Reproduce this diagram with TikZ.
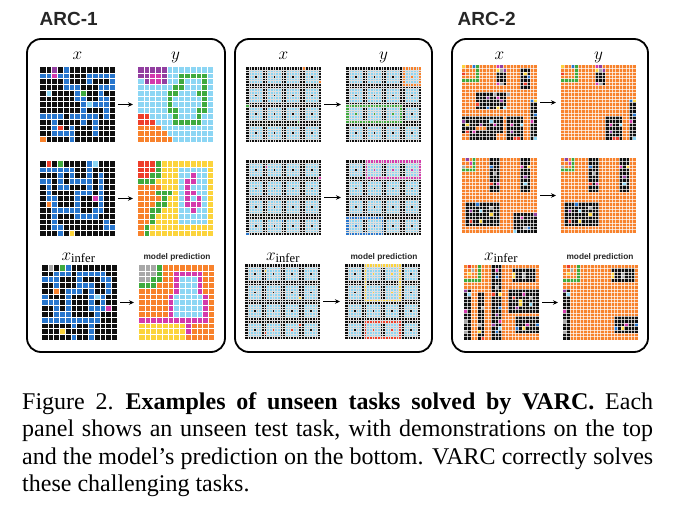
\documentclass[tikz,border=0pt]{standalone}
\usepackage{fontspec}
\setmainfont{Liberation Serif}
\newfontfamily\headfont{Liberation Sans}
\usetikzlibrary{arrows.meta, positioning, calc}
\definecolor{arcblack}{RGB}{15,15,15}
\definecolor{arcblue}{RGB}{40,118,205}
\definecolor{arcred}{RGB}{238,62,42}
\definecolor{arcgreen}{RGB}{62,170,62}
\definecolor{arcyellow}{RGB}{252,212,60}
\definecolor{arcgray}{RGB}{168,168,168}
\definecolor{arcmagenta}{RGB}{212,58,172}
\definecolor{arcorange}{RGB}{248,130,44}
\definecolor{arcsky}{RGB}{140,214,244}
\definecolor{arcpurple}{RGB}{146,62,160}
\definecolor{labelgray}{RGB}{38,38,38}

\tikzset{
  gridbox/.style={minimum size=75pt, inner sep=0pt, outer sep=0pt},
  gridline/.style={white, line width=0.35pt},
  thinline/.style={white, line width=0.3pt, opacity=0.7},
  fineline/.style={white!75!gray, line width=0.22pt},
  panel/.style={line width=1.8pt, rounded corners=14pt},
  flow/.style={-{Stealth[length=5pt,width=4.5pt]}, line width=1pt, shorten <=3pt, shorten >=5pt},
  arclabel/.style={font=\headfont\bfseries\fontsize{19}{22}\selectfont, text=labelgray, inner sep=0pt, anchor=base west},
  mathlabel/.style={font=\fontsize{18}{21}\selectfont, inner sep=0pt, anchor=base},
  predlabel/.style={font=\headfont\bfseries\fontsize{8.3}{10}\selectfont, text=labelgray, inner sep=0pt, anchor=base}
}

% cells of a grid: grid name, colour, list of col/row
\newcommand{\cellsin}[3]{%
  \foreach \cx/\ry in {#3}
    \fill[#2] ($(#1.north west)+(\cx*\cellw,\ry*\cellw)$) rectangle ++(\cellw,\cellw);}
% block of cells: grid name, colour, first col/row, last col/row
\newcommand{\blockin}[6]{%
  \fill[#2] ($(#1.north west)+(#3*\cellw,#4*\cellw)$) rectangle ($(#1.north west)+(#5*\cellw+\cellw,#6*\cellw+\cellw)$);}
% cell borders: grid name, number of inner lines, line style
\newcommand{\linesin}[3]{%
  \foreach \i in {1,...,#2} {
    \draw[#3] ($(#1.north west)+(\i*\cellw,0)$) -- ++(0,75);
    \draw[#3] ($(#1.north west)+(0,\i*\cellw)$) -- ++(75,0);}}
% 4x4 framed squares
\newcommand{\squaresin}[1]{%
  \foreach \i in {0,...,3} \foreach \j in {0,...,3} {
    \fill[arcsky] ($(#1.north west)+(7*\i*\cellw+\cellw,7*\j*\cellw+\cellw)$) rectangle ++(5*\cellw,5*\cellw);
    \fill[arcblack] ($(#1.north west)+(7*\i*\cellw+3*\cellw,7*\j*\cellw+3*\cellw)$) rectangle ++(\cellw,\cellw);}}
% frame round squares: grid name, colour, first square col/row, last square col/row
\newcommand{\ringin}[6]{%
  \draw[#2, line width=\cellw*1pt] ($(#1.north west)+(7*#3*\cellw+0.5*\cellw,7*#4*\cellw+0.5*\cellw)$) rectangle ($(#1.north west)+(7*#5*\cellw+6.5*\cellw,7*#6*\cellw+6.5*\cellw)$);
  \foreach \i in {#3,...,#5} \foreach \j in {#4,...,#6}
    \fill[#2] ($(#1.north west)+(7*\i*\cellw+3*\cellw,7*\j*\cellw+3*\cellw)$) rectangle ++(\cellw,\cellw);}

\begin{document}
\begin{tikzpicture}[x=1pt, y=-1pt]
  \useasboundingbox (0,0) rectangle (673,522);

  % Titles
  \node[arclabel] (arc1) at (39.5,26) {ARC-1};
  \node[arclabel] (arc2) at (457.5,26) {ARC-2};

  % Panels
  \draw[panel] (27,39) rectangle (225,352);
  \draw[panel] (235,39) rectangle (432,352);
  \draw[panel] (452,39) rectangle (648,352);

  % Column labels
  \node[mathlabel] (p1xl) at (77.5,59) {$x$};
  \node[mathlabel] (p1yl) at (175.5,59) {$y$};
  \node[mathlabel] (p1il) at (78.5,260) {$x_{\mathrm{infer}}$};
  \node[predlabel] (p1pl) at (177,259) {model prediction};
  \node[mathlabel] (p2xl) at (283.5,59) {$x$};
  \node[mathlabel] (p2yl) at (383.5,59) {$y$};
  \node[mathlabel] (p2il) at (283,260) {$x_{\mathrm{infer}}$};
  \node[predlabel] (p2pl) at (384,259) {model prediction};
  \node[mathlabel] (p3xl) at (499.5,59) {$x$};
  \node[mathlabel] (p3yl) at (598.5,59) {$y$};
  \node[mathlabel] (p3il) at (501,260) {$x_{\mathrm{infer}}$};
  \node[predlabel] (p3pl) at (600,259) {model prediction};

  % ARC-1, first task
  \def\cellw{5.769}
  \node[gridbox, fill=arcblack] (p1x1) at (77.5,104.5) {};
  \node[gridbox, fill=arcsky] (p1y1) at (175.5,104.5) {};
  \node[gridbox, fill=arcblack] (p1x2) at (77.5,198.5) {};
  \node[gridbox, fill=arcyellow] (p1y2) at (175.5,198.5) {};
  \node[gridbox, fill=arcblack] (p1x3) at (79.5,302.5) {};
  \node[gridbox, fill=arcorange] (p1y3) at (176.5,302.5) {};

  \cellsin{p1x1}{arcblue}{4/0,0/1,1/1,3/1,4/1,8/1,9/1,10/1,11/1,12/1,4/2,8/2,12/2,4/3,5/3,6/3,10/3,11/3,12/3,6/4,10/4,6/5,7/5,10/5,11/5,7/6,9/6,10/6,11/6,7/7,11/7,0/8,1/8,2/8,3/8,5/8,6/8,7/8,8/8,9/8,11/8,2/9,7/9,9/9,2/10,5/10,9/10,2/11,3/11,4/11,5/11,9/11,5/12}
  \cellsin{p1x1}{arcpurple}{2/0}
  \cellsin{p1x1}{arcmagenta}{2/1}
  \cellsin{p1x1}{arcsky}{1/4,8/6}
  \cellsin{p1x1}{arcgreen}{7/4}
  \cellsin{p1x1}{arcred}{3/10}
  \cellsin{p1x1}{arcorange}{0/12}

  \cellsin{p1y1}{arcpurple}{0/0,1/0,2/0,3/0,4/0,0/1,1/1,4/1,1/2,4/2}
  \cellsin{p1y1}{arcmagenta}{2/1,3/1,2/2,3/2}
  \cellsin{p1y1}{arcgreen}{7/1,8/1,9/1,10/1,11/1,7/2,11/2,6/3,7/3,11/3,5/4,6/4,10/4,11/4,5/5,11/5,5/6,11/6,5/7,6/7,10/7,11/7,6/8,10/8,6/9,7/9,8/9,9/9,10/9}
  \cellsin{p1y1}{arcred}{0/8,1/8,0/9,1/9,2/9}
  \cellsin{p1y1}{arcorange}{0/10,1/10,2/10,3/10,0/11,1/11,2/11,3/11,4/11,0/12,1/12,2/12,3/12,4/12,5/12}

  \cellsin{p1x2}{arcblue}{8/0,0/1,1/1,2/1,3/1,4/1,5/1,8/1,3/2,5/2,8/2,10/2,0/3,1/3,3/3,5/3,6/3,7/3,8/3,10/3,1/4,3/4,4/4,8/4,10/4,1/5,6/5,7/5,8/5,10/5,1/6,2/6,6/6,10/6,2/7,6/7,10/7,2/8,3/8,4/8,5/8,6/8,9/8,10/8,2/9,6/9,7/9,8/9,9/9,2/10,11/10,2/11,3/11,11/11,12/11,3/12}
  \cellsin{p1x2}{arcred}{1/0}
  \cellsin{p1x2}{arcgreen}{3/0}
  \cellsin{p1x2}{arcsky}{9/0}
  \cellsin{p1x2}{arcmagenta}{9/6}
  \cellsin{p1x2}{arcorange}{1/7}
  \cellsin{p1x2}{arcyellow}{5/12}

  \cellsin{p1y2}{arcred}{0/0,1/0,2/0,0/1,1/1,2/1,0/2,1/2}
  \cellsin{p1y2}{arcgreen}{3/0,3/1,2/2,3/2,0/3,1/3,2/3,3/5,4/5,5/5,4/6,3/7,4/7,2/8,3/8,2/9,2/10,1/11,1/12}
  \cellsin{p1y2}{arcorange}{0/4,1/4,2/4,3/4,0/5,1/5,2/5,0/6,1/6,2/6,3/6,0/7,1/7,2/7,0/8,1/8,0/9,1/9,0/10,1/10,0/11,0/12}
  \blockin{p1y2}{arcsky}{7}{1}{11}{10}
  \cellsin{p1y2}{arcmagenta}{9/2,8/3,9/3,8/4,8/5,9/5,8/6,10/6,8/7,9/7,10/7,9/8}

  \cellsin{p1x3}{arcblue}{4/0,2/1,3/1,4/1,6/1,7/1,8/1,9/1,10/1,0/2,1/2,2/2,6/2,10/2,11/2,2/3,6/3,7/3,8/3,11/3,4/4,5/4,6/4,8/4,11/4,0/5,4/5,8/5,10/5,0/6,1/6,2/6,4/6,8/6,10/6,2/7,4/7,8/7,9/7,10/7,2/8,3/8,4/8,9/8,0/9,1/9,2/9,3/9,4/9,5/9,6/9,7/9,8/9,9/9,5/10,8/10,8/11,5/12,8/12}
  \cellsin{p1x3}{arcgray}{1/0}
  \cellsin{p1x3}{arcgreen}{3/0}
  \cellsin{p1x3}{arcorange}{2/4}
  \cellsin{p1x3}{arcsky}{9/5}
  \cellsin{p1x3}{arcmagenta}{11/7}
  \cellsin{p1x3}{arcyellow}{3/11}

  \cellsin{p1y3}{arcgray}{0/0,1/0,2/0,0/1,1/1,2/1,0/2,1/2}
  \cellsin{p1y3}{arcgreen}{3/0,3/1,2/2,3/2,0/3,1/3,2/3}
  \blockin{p1y3}{arcmagenta}{6}{1}{10}{4}
  \blockin{p1y3}{arcmagenta}{5}{5}{11}{8}
  \blockin{p1y3}{arcmagenta}{0}{9}{11}{9}
  \blockin{p1y3}{arcsky}{7}{2}{9}{4}
  \blockin{p1y3}{arcsky}{6}{5}{10}{8}
  \blockin{p1y3}{arcyellow}{0}{10}{7}{12}
  \cellsin{p1y3}{arcmagenta}{8/10,8/11}

  \foreach \g in {p1x1,p1y1,p1x2,p1y2,p1x3,p1y3} {\linesin{\g}{12}{gridline}}

  % ARC-1, second task
  \def\cellw{2.679}
  \node[gridbox, fill=arcblack] (p2x1) at (283.5,104.5) {};
  \node[gridbox, fill=arcblack] (p2y1) at (383.5,104.5) {};
  \node[gridbox, fill=arcblack] (p2x2) at (283.5,197.5) {};
  \node[gridbox, fill=arcblack] (p2y2) at (383.5,197.5) {};
  \node[gridbox, fill=arcblack] (p2x3) at (282.5,301.5) {};
  \node[gridbox, fill=arcblack] (p2y3) at (382.5,301.5) {};
  \foreach \g in {p2x1,p2y1,p2x2,p2y2,p2x3,p2y3} {\squaresin{\g}}

  \cellsin{p2x1}{arcorange}{21/0,27/5}
  \cellsin{p2x1}{arcgreen}{0/14,19/20}
  \ringin{p2y1}{arcorange}{3}{0}{3}{0}
  \ringin{p2y1}{arcgreen}{0}{2}{2}{2}

  \cellsin{p2x2}{arcmagenta}{7/2,27/6}
  \cellsin{p2x2}{arcblue}{13/22,0/27}
  \ringin{p2y2}{arcmagenta}{1}{0}{3}{0}
  \ringin{p2y2}{arcblue}{0}{3}{1}{3}

  \cellsin{p2x3}{arcyellow}{7/2,20/12}
  \cellsin{p2x3}{arcred}{10/24,17/24,20/22,7/25}
  \ringin{p2y3}{arcyellow}{1}{0}{2}{1}
  \ringin{p2y3}{arcred}{1}{3}{2}{3}

  \foreach \g in {p2x1,p2y1,p2x2,p2y2,p2x3,p2y3} {\linesin{\g}{27}{fineline}}

  % ARC-2
  \def\cellw{3.409}
  \node[gridbox, fill=arcorange] (p3x1) at (499.5,102.5) {};
  \node[gridbox, fill=arcorange] (p3y1) at (598.5,102.5) {};
  \node[gridbox, fill=arcorange] (p3x2) at (499.5,195.5) {};
  \node[gridbox, fill=arcorange] (p3y2) at (598.5,195.5) {};
  \node[gridbox, fill=arcorange] (p3x3) at (501.5,302.5) {};
  \node[gridbox, fill=arcorange] (p3y3) at (600.5,302.5) {};

  \foreach \g in {p3x1,p3y1} {
    \cellsin{\g}{arcgreen}{4/0,4/1,4/2,4/3,0/4,1/4,2/4,3/4,4/4}
    \cellsin{\g}{arcyellow}{0/0}
    \cellsin{\g}{arcblue}{3/0}
    \cellsin{\g}{arcred}{0/2}
    \blockin{\g}{arcblack}{10}{1}{12}{5}
    \cellsin{\g}{arcmagenta}{10/0,10/5}
    \cellsin{\g}{arcpurple}{11/0,12/1}
    \cellsin{\g}{arcyellow}{10/1}
    \cellsin{\g}{arcgray}{11/1,11/5}
    \blockin{\g}{arcblack}{20}{10}{21}{21}
    \cellsin{\g}{arcblue}{20/10,21/14}
    \cellsin{\g}{arcyellow}{21/10}
    \cellsin{\g}{arcmagenta}{20/16}
    \cellsin{\g}{arcsky}{21/21}
    \blockin{\g}{arcblack}{13}{15}{17}{21}
    \cellsin{\g}{arcmagenta}{14/17}
    \cellsin{\g}{arcsky}{17/17}
    \cellsin{\g}{arcpurple}{14/19}
    \cellsin{\g}{arcred}{15/21,16/21}}
  \blockin{p3x1}{arcblack}{17}{1}{19}{6}
  \cellsin{p3x1}{arcyellow}{18/2}
  \cellsin{p3x1}{arcblue}{19/3}
  \cellsin{p3x1}{arcred}{18/5}
  \blockin{p3x1}{arcblack}{4}{8}{12}{12}
  \cellsin{p3x1}{arcgray}{13/8,9/8}
  \cellsin{p3x1}{arcpurple}{7/9,11/10}
  \cellsin{p3x1}{arcmagenta}{10/9}
  \cellsin{p3x1}{arcred}{4/11}
  \cellsin{p3x1}{arcblue}{7/12}
  \cellsin{p3x1}{arcyellow}{10/12}
  \cellsin{p3x1}{arcsky}{12/12}
  \blockin{p3x1}{arcblack}{0}{15}{11}{19}
  \blockin{p3x1}{arcblack}{2}{20}{9}{21}
  \cellsin{p3x1}{arcpurple}{0/16,5/17}
  \cellsin{p3x1}{arcyellow}{1/17}
  \cellsin{p3x1}{arcsky}{8/16}
  \cellsin{p3x1}{arcmagenta}{9/17,3/19}
  \cellsin{p3x1}{arcred}{1/19}
  \cellsin{p3x1}{arcorange}{4/18,5/18,6/18,1/20}

  \foreach \g in {p3x2,p3y2} {
    \cellsin{\g}{arcgreen}{3/0,3/1,3/2,0/3,1/3,2/3,3/3}
    \cellsin{\g}{arcpurple}{1/0}
    \cellsin{\g}{arcmagenta}{2/1}
    \cellsin{\g}{arcgray}{0/2}
    \blockin{\g}{arcblack}{8}{0}{10}{9}
    \cellsin{\g}{arcblue}{8/2}
    \cellsin{\g}{arcgray}{9/4}
    \cellsin{\g}{arcred}{8/7}
    \cellsin{\g}{arcmagenta}{10/7}
    \blockin{\g}{arcblack}{17}{0}{19}{9}
    \cellsin{\g}{arcmagenta}{17/2}
    \cellsin{\g}{arcyellow}{19/2}
    \cellsin{\g}{arcpurple}{18/5}
    \cellsin{\g}{arcsky}{18/7}
    \blockin{\g}{arcblack}{1}{13}{10}{19}
    \cellsin{\g}{arcblue}{4/13}
    \cellsin{\g}{arcpurple}{2/15}
    \cellsin{\g}{arcsky}{5/15}
    \cellsin{\g}{arcgray}{8/14}
    \cellsin{\g}{arcyellow}{8/16,5/18}
    \cellsin{\g}{arcred}{2/18}}
  \blockin{p3x2}{arcblack}{15}{16}{21}{21}
  \cellsin{p3x2}{arcmagenta}{17/17}
  \cellsin{p3x2}{arcpurple}{21/16}
  \cellsin{p3x2}{arcsky}{15/21}
  \cellsin{p3x2}{arcgray}{18/20}
  \cellsin{p3x2}{arcblue}{19/20}

  \foreach \g in {p3x3,p3y3} {
    \cellsin{\g}{arcgreen}{4/0,4/1,4/2,4/3,0/4,1/4,2/4,3/4,4/4}
    \cellsin{\g}{arcred}{1/0}
    \cellsin{\g}{arcgray}{2/1}
    \cellsin{\g}{arcyellow}{1/2}
    \blockin{\g}{arcblack}{0}{7}{1}{21}
    \cellsin{\g}{arcpurple}{0/7}
    \cellsin{\g}{arcsky}{1/8}
    \cellsin{\g}{arcmagenta}{0/13}
    \cellsin{\g}{arcgray}{0/16,0/19}
    \blockin{\g}{arcblack}{14}{1}{20}{4}
    \cellsin{\g}{arcyellow}{14/2,14/3}
    \cellsin{\g}{arcgray}{17/2,17/3}
    \blockin{\g}{arcblack}{15}{15}{21}{19}
    \cellsin{\g}{arcblue}{15/18,21/17}
    \cellsin{\g}{arcmagenta}{18/17}
    \cellsin{\g}{arcyellow}{17/18}}
  \blockin{p3x3}{arcblack}{4}{8}{5}{21}
  \cellsin{p3x3}{arcgray}{5/12,4/17}
  \cellsin{p3x3}{arcyellow}{4/19}
  \cellsin{p3x3}{arcred}{5/21}
  \blockin{p3x3}{arcblack}{8}{0}{10}{21}
  \cellsin{p3x3}{arcmagenta}{9/1,10/16}
  \cellsin{p3x3}{arcblue}{9/3,10/12,9/19}
  \cellsin{p3x3}{arcgray}{9/6}
  \cellsin{p3x3}{arcred}{8/8}
  \cellsin{p3x3}{arcyellow}{10/8}
  \cellsin{p3x3}{arcpurple}{9/14,8/17}
  \cellsin{p3x3}{arcsky}{10/18}
  \blockin{p3x3}{arcblack}{13}{7}{21}{13}
  \cellsin{p3x3}{arcmagenta}{17/8}
  \cellsin{p3x3}{arcred}{14/9}
  \cellsin{p3x3}{arcyellow}{16/10,16/11}
  \cellsin{p3x3}{arcgray}{19/9}
  \cellsin{p3x3}{arcsky}{19/11}
  \cellsin{p3x3}{arcpurple}{15/12}

  \foreach \g in {p3x1,p3y1,p3x2,p3y2,p3x3,p3y3} {\linesin{\g}{21}{thinline}}

  % Arrows
  \foreach \p in {p1,p2,p3} {
    \foreach \r in {1,2,3} {
      \draw[flow] (\p x\r) -- (\p y\r);}}

  % Caption
  \node[anchor=north west, inner sep=0pt, text width=631pt, align=justify,
        font=\fontsize{24}{27.5}\selectfont] (caption) at (22,392)
    {Figure 2.\enspace\textbf{Examples of unseen tasks solved by VARC.} Each\linebreak
     panel shows an unseen test task, with demonstrations on the top\linebreak
     and the model's prediction on the bottom. VARC correctly solves\linebreak
     these challenging tasks.};
\end{tikzpicture}
\end{document}
